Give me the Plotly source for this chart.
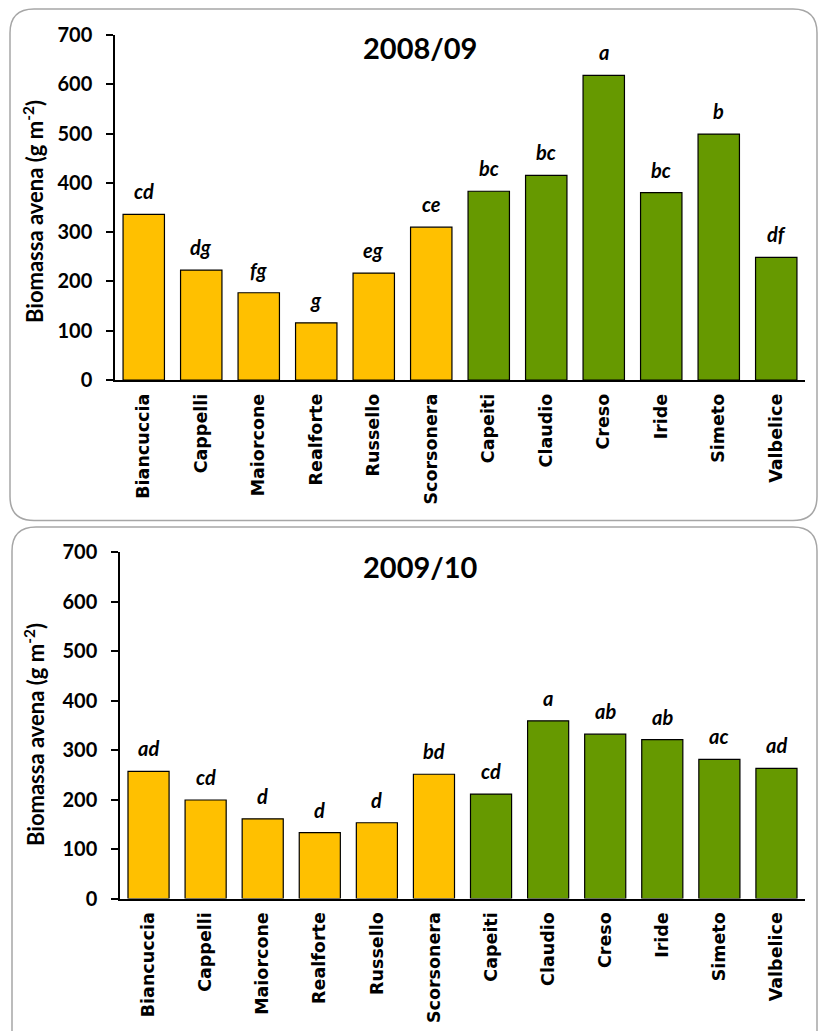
import plotly.graph_objects as go

W, H = 818, 1031

varieties = ["Biancuccia", "Cappelli", "Maiorcone", "Realforte", "Russello", "Scorsonera",
             "Capeiti", "Claudio", "Creso", "Iride", "Simeto", "Valbelice"]
old_group = ["Biancuccia", "Cappelli", "Maiorcone", "Realforte", "Russello", "Scorsonera"]

biomass_2008 = [336, 223, 177, 116, 217, 310, 383, 415, 618, 380, 499, 249]
letters_2008 = ["cd", "dg", "fg", "g", "eg", "ce", "bc", "bc", "a", "bc", "b", "df"]

biomass_2009 = [257, 199, 161, 133, 153, 251, 211, 359, 332, 321, 281, 263]
letters_2009 = ["ad", "cd", "d", "d", "d", "bd", "cd", "a", "ab", "ab", "ac", "ad"]

seasons = ["2008/09", "2009/10"]
y_ticks = [0, 100, 200, 300, 400, 500, 600, 700]

YELLOW = "#FFC000"
GREEN = "#669900"
NUM_FONT = "Lato"
CAT_FONT = "DejaVu Sans"


def fx(px):
    return px / W


def fy(py):
    return 1 - py / H


def rounded_box(x0, y0, x1, y1, r):
    # rounded rectangle in pixel units converted to paper coordinates
    pts = [
        f"M {fx(x0 + r)} {fy(y0)}",
        f"L {fx(x1 - r)} {fy(y0)}",
        f"Q {fx(x1)} {fy(y0)} {fx(x1)} {fy(y0 + r)}",
        f"L {fx(x1)} {fy(y1 - r)}",
        f"Q {fx(x1)} {fy(y1)} {fx(x1 - r)} {fy(y1)}",
        f"L {fx(x0 + r)} {fy(y1)}",
        f"Q {fx(x0)} {fy(y1)} {fx(x0)} {fy(y1 - r)}",
        f"L {fx(x0)} {fy(y0 + r)}",
        f"Q {fx(x0)} {fy(y0)} {fx(x0 + r)} {fy(y0)}",
        "Z",
    ]
    return dict(type="path", path=" ".join(pts), xref="paper", yref="paper",
                line=dict(color="#A6A6A6", width=1.5), fillcolor="rgba(0,0,0,0)",
                layer="below")


# panel geometry in pixels: (left, right, top of 700, bottom at 0)
panels = [
    dict(values=biomass_2008, letters=letters_2008, title=seasons[0],
         xl=115, xr=805, yt=35, yb=380, box=(10, 9, 817, 520.5), title_y=48, ytitle_y=212),
    dict(values=biomass_2009, letters=letters_2009, title=seasons[1],
         xl=120, xr=805, yt=552, yb=898.5, box=(12, 527, 817, 1060), title_y=566, ytitle_y=735),
]

colors = [YELLOW if v in old_group else GREEN for v in varieties]

fig = go.Figure()
annotations = []
shapes = []

for i, p in enumerate(panels):
    xa = "x" if i == 0 else "x2"
    ya = "y" if i == 0 else "y2"
    fig.add_trace(go.Bar(
        x=varieties, y=p["values"], xaxis=xa, yaxis=ya,
        marker=dict(color=colors, line=dict(color="#000000", width=1.2)),
        width=0.72, showlegend=False, hoverinfo="x+y",
    ))
    for v, val, lab in zip(varieties, p["values"], p["letters"]):
        annotations.append(dict(
            x=v, y=val, xref=xa, yref=ya, text=f"<b><i>{lab}</i></b>",
            showarrow=False, yanchor="middle", yshift=23,
            font=dict(family=NUM_FONT, size=20, color="#000000"),
        ))
    annotations.append(dict(
        x=fx(420), y=fy(p["title_y"]), xref="paper", yref="paper",
        text=f"<b>{p['title']}</b>", showarrow=False, xanchor="center", yanchor="middle",
        font=dict(family=NUM_FONT, size=29, color="#000000"),
    ))
    annotations.append(dict(
        x=fx(34), y=fy(p["ytitle_y"]), xref="paper", yref="paper",
        text="<b>Biomassa avena (g m<sup>-2</sup>)</b>", showarrow=False, textangle=-90,
        xanchor="center", yanchor="middle",
        font=dict(family=NUM_FONT, size=22, color="#000000"),
    ))
    shapes.append(rounded_box(*p["box"], 24))

axis_common_x = dict(
    showgrid=False, zeroline=False, showline=True, linecolor="#000000", linewidth=1.5,
    ticks="", tickangle=-90, fixedrange=True, automargin=False, ticklabelstandoff=5,
    tickfont=dict(family=CAT_FONT, size=17.5, color="#000000", weight="bold"),
)
axis_common_y = dict(
    range=[0, 700], tickvals=y_ticks, showgrid=False, zeroline=False, showline=True,
    linecolor="#000000", linewidth=1.5, ticks="outside", ticklen=7, tickwidth=1.5,
    tickcolor="#000000", fixedrange=True, ticklabelstandoff=10, automargin=False,
    tickfont=dict(family=NUM_FONT, size=20, color="#000000", weight="bold"),
)

p0, p1 = panels
fig.update_layout(
    width=W, height=H, margin=dict(l=0, r=0, t=0, b=0, pad=0, autoexpand=False),
    paper_bgcolor="#FFFFFF", plot_bgcolor="#FFFFFF",
    bargap=0.28,
    xaxis=dict(domain=[fx(p0["xl"]), fx(p0["xr"])], anchor="y", **axis_common_x),
    yaxis=dict(domain=[fy(p0["yb"]), fy(p0["yt"])], anchor="x", **axis_common_y),
    xaxis2=dict(domain=[fx(p1["xl"]), fx(p1["xr"])], anchor="y2", **axis_common_x),
    yaxis2=dict(domain=[fy(p1["yb"]), fy(p1["yt"])], anchor="x2", **axis_common_y),
    annotations=annotations,
    shapes=shapes,
)

fig.write_html("out.html")
